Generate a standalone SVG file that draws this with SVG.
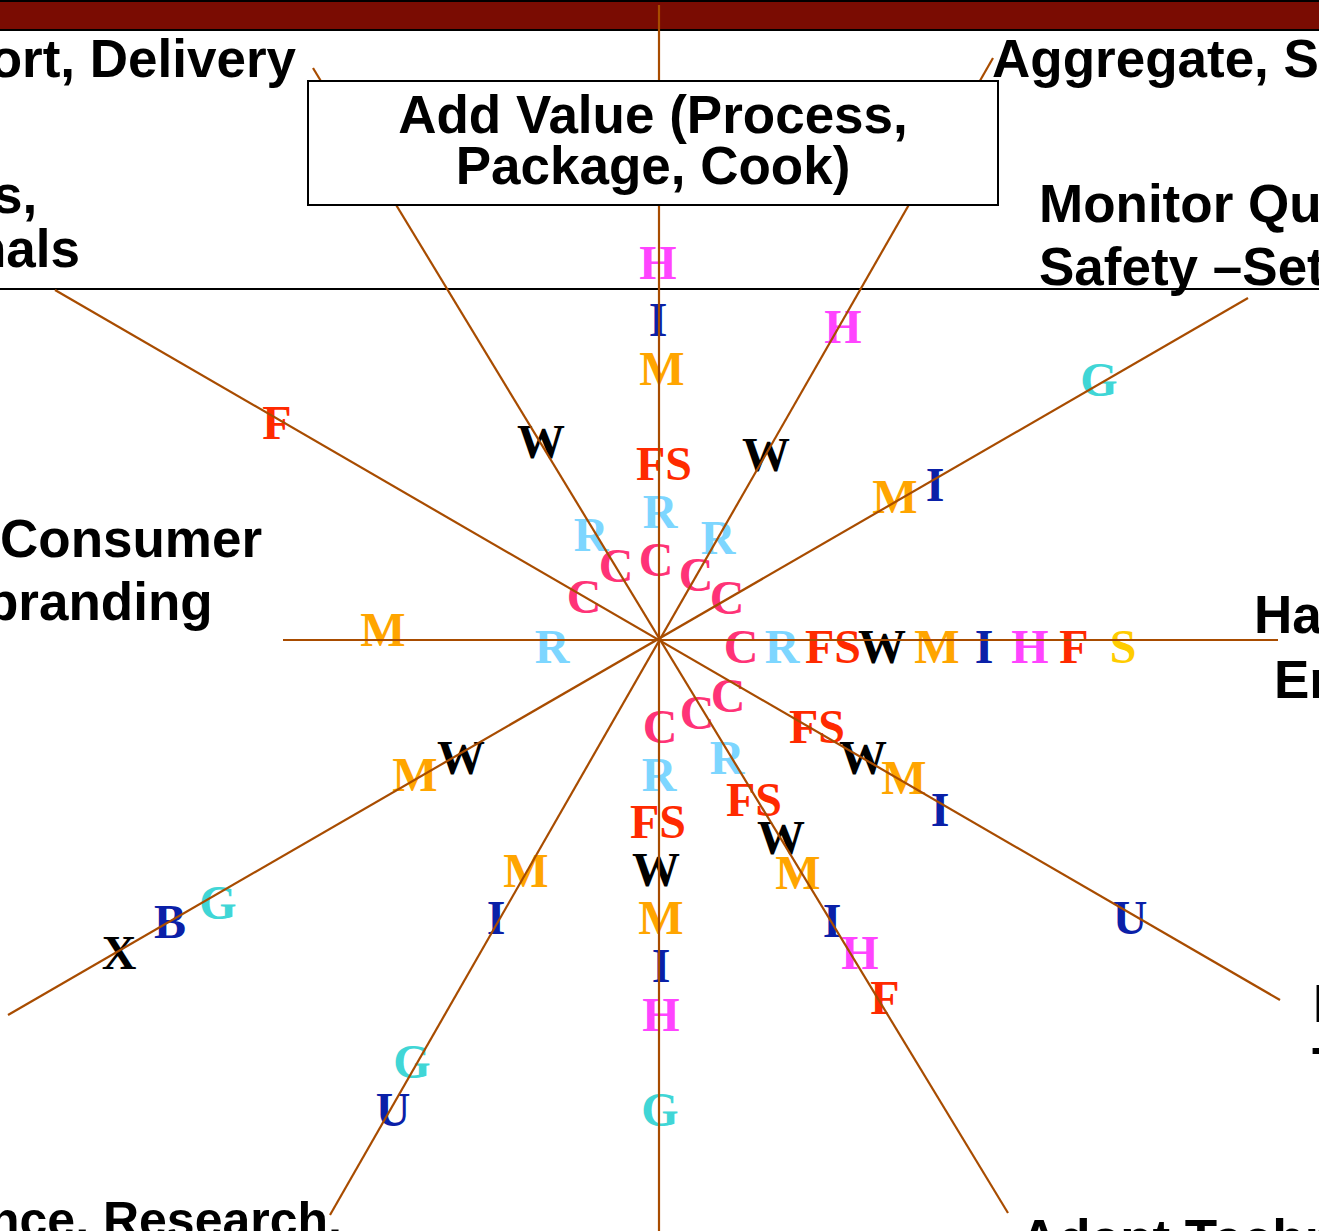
<svg xmlns="http://www.w3.org/2000/svg" width="1319" height="1231" viewBox="0 0 1319 1231">
<style>
.lbl{font-family:"Liberation Sans",Arial,sans-serif;font-weight:bold;font-size:53px;fill:#000}
.L{font-family:"Liberation Serif","Times New Roman",serif;font-weight:bold;font-size:48px;text-anchor:middle}
.h{fill:#FF44FF}.i{fill:#0A20A8}.m{fill:#FFA500}.f{fill:#FF2A00}.w{fill:#000}
.r{fill:#7DD6FF}.c{fill:#FF3377}.g{fill:#40D6D6}.s{fill:#FFCC00}.x{fill:#000}
.sp{stroke:#A84C00;stroke-width:2.2;fill:none}
</style>
<rect x="0" y="0" width="1319" height="1231" fill="#fff"/>
<g id="banner">
<rect x="0" y="0" width="1319" height="30" fill="#7A0C02"/>
<line x1="0" y1="1" x2="1319" y2="1" stroke="#000" stroke-width="2"/>
<line x1="0" y1="30" x2="1319" y2="30" stroke="#000" stroke-width="2"/>
</g>
<line x1="0" y1="289" x2="1319" y2="289" stroke="#000" stroke-width="2"/>

<g id="letters">
<!-- vertical up -->
<text class="L h" x="658" y="279">H</text>
<text class="L i" x="658" y="336">I</text>
<text class="L m" x="662" y="385">M</text>
<text class="L f" x="664" y="480">FS</text>
<text class="L r" x="660" y="528">R</text>
<text class="L c" x="656" y="576">C</text>
<!-- upper-right 60 -->
<text class="L h" x="843" y="343">H</text>
<text class="L w" x="766" y="471">W</text>
<text class="L r" x="718" y="554">R</text>
<text class="L c" x="696" y="591">C</text>
<!-- upper-right 30 -->
<text class="L g" x="1099" y="396">G</text>
<text class="L i" x="935" y="501">I</text>
<text class="L m" x="895" y="513">M</text>
<text class="L c" x="727" y="614">C</text>
<!-- horizontal right -->
<text class="L c" x="741" y="663">C</text>
<text class="L r" x="782" y="663">R</text>
<text class="L f" x="833" y="663">FS</text>
<text class="L w" x="882" y="663">W</text>
<text class="L m" x="937" y="663">M</text>
<text class="L i" x="984" y="663">I</text>
<text class="L h" x="1030" y="663">H</text>
<text class="L f" x="1074" y="663">F</text>
<text class="L s" x="1123" y="663">S</text>
<!-- horizontal left -->
<text class="L m" x="383" y="646">M</text>
<text class="L r" x="552" y="663">R</text>
<!-- upper-left 30 -->
<text class="L f" x="277" y="439">F</text>
<text class="L c" x="584" y="613">C</text>
<!-- upper-left 60 -->
<text class="L w" x="541" y="458">W</text>
<text class="L r" x="591" y="551">R</text>
<text class="L c" x="616" y="582">C</text>
<!-- lower-right 30 -->
<text class="L c" x="728" y="712">C</text>
<text class="L f" x="817" y="743">FS</text>
<text class="L w" x="863" y="774">W</text>
<text class="L m" x="904" y="794">M</text>
<text class="L i" x="940" y="826">I</text>
<text class="L i" x="1130" y="934">U</text>
<!-- lower-right 60 -->
<text class="L c" x="697" y="729">C</text>
<text class="L r" x="727" y="774">R</text>
<text class="L f" x="754" y="816">FS</text>
<text class="L w" x="781" y="854">W</text>
<text class="L m" x="798" y="889">M</text>
<text class="L i" x="832" y="937">I</text>
<text class="L h" x="860" y="969">H</text>
<text class="L f" x="885" y="1014">F</text>
<!-- vertical down -->
<text class="L c" x="660" y="743">C</text>
<text class="L r" x="659" y="791">R</text>
<text class="L f" x="658" y="838">FS</text>
<text class="L w" x="656" y="886">W</text>
<text class="L m" x="661" y="934">M</text>
<text class="L i" x="661" y="982">I</text>
<text class="L h" x="661" y="1031">H</text>
<text class="L g" x="660" y="1126">G</text>
<!-- lower-left 60 -->
<text class="L m" x="526" y="887">M</text>
<text class="L i" x="496" y="934">I</text>
<text class="L g" x="412" y="1078">G</text>
<text class="L i" x="393" y="1126">U</text>
<!-- lower-left 30 -->
<text class="L w" x="461" y="774">W</text>
<text class="L m" x="415" y="791">M</text>
<text class="L g" x="218" y="919">G</text>
<text class="L i" x="170" y="938">B</text>
<text class="L x" x="119" y="969">X</text>
</g>

<g id="connectors">
<line class="sp" x1="659" y1="5" x2="659" y2="1231"/>
<line class="sp" x1="283" y1="640" x2="1278" y2="640"/>
<line class="sp" x1="55" y1="290" x2="1280" y2="1000"/>
<line class="sp" x1="8" y1="1015" x2="1248" y2="298"/>
<line class="sp" x1="313" y1="68" x2="1008" y2="1213"/>
<line class="sp" x1="993" y1="58" x2="330" y2="1215"/>
</g>

<g id="add-value">
<rect x="308" y="81" width="690" height="124" fill="#fff" stroke="#000" stroke-width="2"/>
<text class="lbl" x="653" y="133" text-anchor="middle">Add Value (Process,</text>
<text class="lbl" x="653" y="184" text-anchor="middle">Package, Cook)</text>
</g>

<g id="labels">
<text class="lbl" x="296" y="77" text-anchor="end">ort, Delivery</text>
<text class="lbl" x="-7" y="213">s,</text>
<text class="lbl" x="-26" y="267">nals</text>
<text class="lbl" x="992" y="77">Aggregate, S</text>
<text class="lbl" x="1039" y="222">Monitor Qu</text>
<text class="lbl" x="1039" y="285">Safety –Set</text>
<text class="lbl" x="0" y="557">Consumer</text>
<text class="lbl" x="-14" y="620">branding</text>
<text class="lbl" x="1254" y="633">Ha</text>
<text class="lbl" x="1274" y="698">Er</text>
<text class="lbl" x="1313" y="1022">I</text>
<text class="lbl" x="1312" y="1085">T</text>
<text class="lbl" x="342" y="1237" text-anchor="end" style="font-size:50px">nce, Research,</text>
<text class="lbl" x="1020" y="1257">Adapt Techn</text>
</g>
</svg>
